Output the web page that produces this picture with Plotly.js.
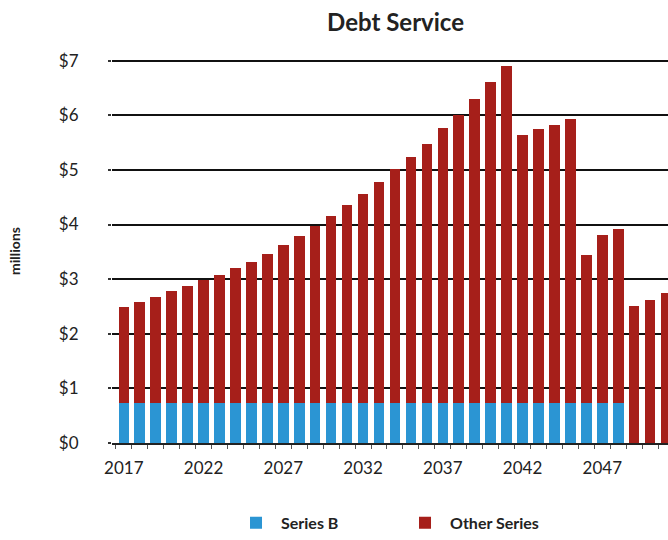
<!DOCTYPE html>
<html>
<head>
<meta charset="utf-8">
<script src="https://cdn.plot.ly/plotly-3.0.1.min.js"></script>
<style>html,body{margin:0;padding:0;background:#fff;}#chart{width:668px;height:540px;}</style>
</head>
<body>
<div id="chart"></div>
<script>
var years = [2017,2018,2019,2020,2021,2022,2023,2024,2025,2026,2027,2028,2029,2030,2031,2032,2033,2034,2035,2036,2037,2038,2039,2040,2041,2042,2043,2044,2045,2046,2047,2048,2049,2050,2051];
var seriesB = [0.73,0.73,0.73,0.73,0.73,0.73,0.73,0.73,0.73,0.73,0.73,0.73,0.73,0.73,0.73,0.73,0.73,0.73,0.73,0.73,0.73,0.73,0.73,0.73,0.73,0.73,0.73,0.73,0.73,0.73,0.73,0.73,0,0,0];
var otherSeries = [1.76,1.85,1.95,2.05,2.15,2.25,2.35,2.47,2.58,2.73,2.89,3.06,3.24,3.43,3.63,3.83,4.04,4.28,4.51,4.75,5.03,5.28,5.57,5.87,6.18,4.91,5.01,5.10,5.21,2.72,3.07,3.18,2.51,2.62,2.75];
var seriesNames = ["Series B", "Other Series"];

var FONT = "Lato, 'Open Sans', sans-serif";
var traces = [
  {type:"bar", name:seriesNames[0], x:years, y:seriesB, marker:{color:"#2b95d3"}, width:0.66},
  {type:"bar", name:seriesNames[1], x:years, y:otherSeries, marker:{color:"#a61f1a"}, width:0.66}
];
var layout = {
  width:668, height:540,
  margin:{l:112, r:0, t:59, b:93, pad:0},
  paper_bgcolor:"#fff", plot_bgcolor:"#fff",
  barmode:"stack",
  showlegend:true,
  font:{family:FONT, color:"#222"},
  title:{text:"<b>Debt Service</b>", xref:"paper", x:0.51, xanchor:"center", yref:"container", y:0.958, yanchor:"middle", font:{family:FONT, size:24, color:"#222"}},
  xaxis:{
    range:[2016.26, 2051.12],
    tick0:2017, dtick:5, ticks:"", showgrid:false, zeroline:false,
    showline:true, linecolor:"#222", linewidth:2,
    tickfont:{family:FONT, size:17, color:"#222"},
    ticklabelstandoff:9,
    minor:{tick0:2016.5, dtick:1, ticks:"outside", ticklen:4, tickcolor:"#555", tickwidth:1, showgrid:false}
  },
  yaxis:{
    range:[0,7.03], dtick:1, tickprefix:"$",
    showgrid:true, gridcolor:"#111", gridwidth:2,
    zeroline:false, showline:false,
    ticks:"outside", ticklen:3, tickcolor:"#333", tickwidth:2,
    tickfont:{family:FONT, size:17, color:"#222"},
    ticklabelstandoff:26,
    title:{text:"<b>millions</b>", standoff:34, font:{family:FONT, size:14, color:"#222"}}
  },
  legend:{orientation:"h", x:0.518, xanchor:"center", y:-0.208, yanchor:"middle",
    font:{family:FONT, size:16, color:"#222", weight:"bold"}, traceorder:"normal", itemwidth:40, entrywidth:114}
};
Plotly.newPlot("chart", traces, layout, {displayModeBar:false, staticPlot:true});
</script>
</body>
</html>
